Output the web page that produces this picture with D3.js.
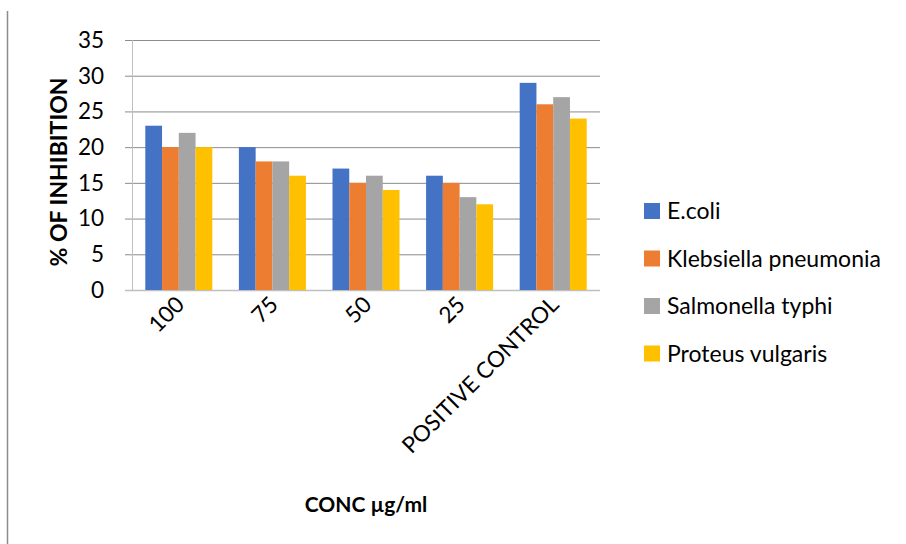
<!DOCTYPE html>
<html><head><meta charset="utf-8">
<script src="https://cdn.jsdelivr.net/npm/d3@7"></script>
<style>body{margin:0;background:#fff}svg{display:block}</style>
</head><body>
<svg id="c" width="906" height="544"></svg>
<script>
const categories = ["100", "75", "50", "25", "POSITIVE CONTROL"];
const seriesNames = ["E.coli", "Klebsiella pneumonia", "Salmonella typhi", "Proteus vulgaris"];
const ecoli = [23, 20, 17, 16, 29];
const klebsiella = [20, 18, 15, 15, 26];
const salmonella = [22, 18, 16, 13, 27];
const proteus = [20, 16, 14, 12, 24];
const colors = ["#4472C4", "#ED7D31", "#A5A5A5", "#FFC000"];
const yTicks = [0, 5, 10, 15, 20, 25, 30, 35];
const yTitle = "% OF INHIBITION";
const xTitle = "CONC µg/ml";

const series = [ecoli, klebsiella, salmonella, proteus];
const font = "Lato, 'Open Sans', sans-serif";
const svg = d3.select("#c");

// left frame line
svg.append("line").attr("x1", 7.5).attr("x2", 7.5).attr("y1", 11).attr("y2", 544)
  .attr("stroke", "#8c8c8c").attr("stroke-width", 1.5);

const L = 132, R = 600, T = 40, B = 290;
const x = d3.scaleBand().domain(categories).range([L, R]).paddingInner(0.284).paddingOuter(0.142);
const xs = d3.scaleBand().domain(seriesNames).range([0, x.bandwidth()]);
const y = d3.scaleLinear().domain([0, 35]).range([B, T]);

// gridlines
const g = svg.append("g");
g.selectAll("line.grid").data(yTicks).join("line")
  .attr("x1", 125).attr("x2", R).attr("y1", d => y(d) + 0.5).attr("y2", d => y(d) + 0.5)
  .attr("stroke", d => d === 0 ? "#bfbfbf" : "#8c8c8c").attr("stroke-width", d => d === 0 ? 1.5 : 1);
// y axis line
svg.append("line").attr("x1", L + 0.5).attr("x2", L + 0.5).attr("y1", T).attr("y2", B)
  .attr("stroke", "#bfbfbf").attr("stroke-width", 1);

// y tick labels
svg.append("g").selectAll("text").data(yTicks).join("text")
  .attr("x", 104).attr("y", d => y(d)).attr("dy", "0.35em")
  .attr("text-anchor", "end").attr("font-family", font).attr("font-size", 22.5).attr("fill", "#000")
  .text(d => d);

// bars
categories.forEach((c, ci) => {
  series.forEach((s, si) => {
    svg.append("rect")
      .attr("x", x(c) + xs(seriesNames[si]))
      .attr("y", y(s[ci]))
      .attr("width", xs.bandwidth())
      .attr("height", y(0) - y(s[ci]))
      .attr("fill", colors[si]);
  });
});

// x tick labels
svg.append("g").selectAll("text").data(categories).join("text")
  .attr("transform", d => `translate(${x(d) + x.bandwidth() / 2 + 7},${306}) rotate(-45)`)
  .attr("text-anchor", "end").attr("font-family", font).attr("font-size", 22.5).attr("fill", "#000")
  .text(d => d);

// y title
svg.append("text")
  .attr("transform", `translate(67,${172}) rotate(-90)`)
  .attr("text-anchor", "middle").attr("font-family", font).attr("font-weight", "bold")
  .attr("font-size", 23).attr("fill", "#000").text(yTitle);

// x title
svg.append("text").attr("x", 366).attr("y", 512).attr("text-anchor", "middle")
  .attr("font-family", font).attr("font-weight", "bold").attr("font-size", 21).attr("fill", "#000")
  .text(xTitle);

// legend
const leg = svg.append("g");
seriesNames.forEach((n, i) => {
  const cy = 211 + i * 47.5;
  leg.append("rect").attr("x", 644).attr("y", cy - 8).attr("width", 16).attr("height", 16).attr("fill", colors[i]);
  leg.append("text").attr("x", 667).attr("y", cy).attr("dy", "0.35em")
    .attr("font-family", font).attr("font-size", 23).attr("fill", "#000").text(n);
});
</script>
</body></html>
